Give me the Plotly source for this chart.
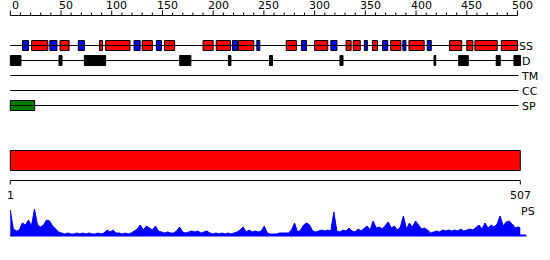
import plotly.graph_objects as go

# ---------------- data ----------------
ruler_major = [0, 50, 100, 150, 200, 250, 300, 350, 400, 450, 500]
ruler_minor = list(range(0, 501, 10))

helix_start = [21, 49, 88, 94, 130, 152, 190, 203, 225, 272, 300, 331, 338, 357, 375, 393, 433, 450, 458, 484]
helix_end   = [37, 58, 91, 118, 140, 162, 200, 217, 240, 282, 313, 336, 345, 362, 385, 408, 445, 456, 480, 500]
strand_start = [12, 39, 67, 122, 144, 219, 243, 287, 316, 349, 367, 387, 411]
strand_end   = [18, 46, 73, 128, 149, 224, 246, 292, 322, 352, 372, 390, 415]
disorder_start = [0, 48, 73, 167, 215, 255.5, 325, 417.7, 442, 479, 496.5]
disorder_end   = [10.5, 51, 94, 178, 217.5, 258.5, 328, 419.4, 451.5, 483, 503]
signal_start = [0]
signal_end = [24]
track_end = 501
track_names = ["SS", "D", "TM", "CC", "SP"]

seq_len = 507
ps_pos = list(range(1, 506, 3)) + [507]
ps_val = [26, 7, 5, 6, 13, 11, 16, 10, 27, 11, 9, 11, 16, 15, 10, 7, 4, 3, 2, 3,
          2, 2, 3, 2, 3, 2, 3, 2, 2, 3, 2, 3, 6, 4, 6, 3, 3, 2, 3, 2,
          3, 5, 7, 11, 6, 10, 8, 6, 10, 5, 4, 3, 4, 3, 3, 5, 9, 4, 3, 4,
          5, 4, 5, 3, 4, 5, 3, 2, 3, 2, 3, 2, 3, 2, 3, 4, 6, 9, 4, 6,
          4, 5, 4, 5, 10, 3, 2, 2, 2, 3, 3, 3, 3, 6, 13, 4, 6, 11, 13, 11,
          5, 4, 5, 6, 5, 6, 5, 24, 5, 4, 6, 5, 8, 5, 4, 7, 5, 8, 10, 6,
          15, 8, 9, 7, 10, 14, 8, 10, 6, 9, 20, 7, 13, 9, 15, 11, 7, 8, 6, 3,
          4, 5, 4, 6, 5, 6, 5, 6, 5, 7, 5, 6, 7, 6, 9, 11, 7, 13, 8, 11,
          9, 12, 20, 10, 14, 15, 12, 8, 9, 8]

# ---------------- layout helpers ----------------
W, H = 550, 260
TOP_X0, TOP_S = 10.3, 1.0144          # px of residue 0, px per residue (top panel)
BOT_X0, BOT_X1 = 10.3, 520.3          # px of residue 1 and residue seq_len (bottom)
bot_s = (BOT_X1 - BOT_X0) / (seq_len - 1)
FONT = dict(family="DejaVu Sans", size=11, color="black")

row_y = {"SS": 45.5, "D": 60.5, "TM": 75.5, "CC": 90.5, "SP": 105.5}
label_shift = {"SS": -2, "D": 1, "TM": 0, "CC": 1.5, "SP": 1.5}
box_h = 10

fig = go.Figure()


def line(xs, ys, xa="x", ya="y", color="black", width=1):
    fig.add_trace(go.Scatter(x=xs, y=ys, mode="lines", xaxis=xa, yaxis=ya,
                             line=dict(color=color, width=width), hoverinfo="skip",
                             showlegend=False))


def boxes(starts, ends, yc, color, h=box_h, xa="x"):
    fig.add_trace(go.Bar(orientation="h", base=starts,
                         x=[e - s for s, e in zip(starts, ends)],
                         y=[yc] * len(starts), width=h, xaxis=xa, yaxis="y",
                         marker=dict(color=color, line=dict(color="black", width=1)),
                         hoverinfo="skip", showlegend=False))


# top ruler
RY = 15.5
line([ruler_minor[0], ruler_minor[-1]], [RY, RY])
tx, ty = [], []
for t in ruler_minor:
    top = RY - (5 if t in ruler_major else 3)
    tx += [t, t, None]
    ty += [RY, top, None]
line(tx, ty)
for t in ruler_major:
    fig.add_annotation(x=t, y=RY - 1.5, xref="x", yref="y", text=str(t), showarrow=False,
                       xanchor="center", yanchor="bottom", xshift=5, font=FONT)

# tracks
for name in track_names:
    line([0, track_end], [row_y[name]] * 2)
    fig.add_annotation(x=track_end, y=row_y[name] + 0.5, xref="x", yref="y", text=name,
                       showarrow=False, xanchor="left", yanchor="middle",
                       xshift=label_shift[name], font=FONT)

boxes(helix_start, helix_end, row_y["SS"], "#ff0000")
boxes(strand_start, strand_end, row_y["SS"], "#0000ff")
boxes(disorder_start, disorder_end, row_y["D"], "#000000")
boxes(signal_start, signal_end, row_y["SP"], "#008000")

# bottom: full-length bar and ruler
boxes([1], [seq_len], 160.5, "#ff0000", h=20, xa="x2")
BY = 180.5
line([1, seq_len], [BY, BY], xa="x2")
line([1, 1, None, seq_len, seq_len], [BY, BY + 4, None, BY, BY + 4], xa="x2")
for t in [1, seq_len]:
    fig.add_annotation(x=t, y=195.5, xref="x2", yref="y", text=str(t), showarrow=False,
                       xanchor="center", yanchor="middle", font=FONT)

# PS profile
fig.add_trace(go.Scatter(x=ps_pos, y=ps_val, mode="lines", fill="tozeroy",
                         fillcolor="#0000ff", line=dict(color="#0000ff", width=1),
                         xaxis="x2", yaxis="y3", hoverinfo="skip", showlegend=False))
line([1, 513], [0.5, 0.5], xa="x2", ya="y3", color="#0000ff", width=2)
fig.add_annotation(x=seq_len, y=211, xref="x2", yref="y", text="PS", showarrow=False,
                   xanchor="left", yanchor="middle", xshift=-1, font=FONT)

fig.update_layout(
    width=W, height=H, margin=dict(l=0, r=0, t=0, b=0),
    paper_bgcolor="white", plot_bgcolor="white", barmode="overlay",
    xaxis=dict(range=[-TOP_X0 / TOP_S, (W - TOP_X0) / TOP_S], visible=False, fixedrange=True),
    xaxis2=dict(range=[1 - BOT_X0 / bot_s, 1 + (W - BOT_X0) / bot_s], visible=False,
                overlaying="x", fixedrange=True),
    yaxis=dict(range=[H, 0], visible=False, fixedrange=True),
    yaxis3=dict(range=[-(H - 236), 236], visible=False, overlaying="y", fixedrange=True),
)

fig.write_html("out.html", config={"displayModeBar": False})
